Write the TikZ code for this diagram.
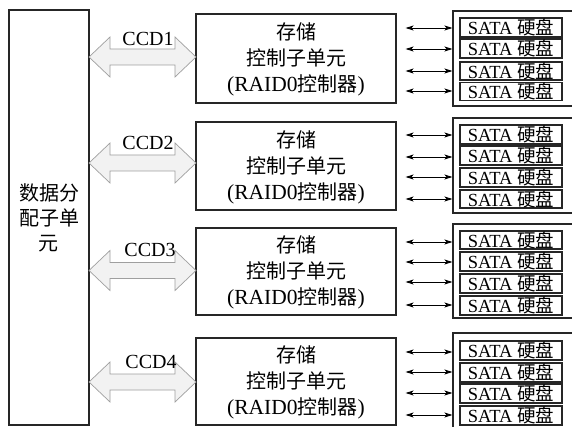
\documentclass[tikz,border=0pt]{standalone}
\usepackage{fontspec}
\setmainfont{Liberation Serif}
\newfontfamily\cjk{Noto Sans CJK SC}
\usetikzlibrary{arrows.meta}
% #1 = centre y of the double arrow
\newcommand\bigarrow[1]{%
  \draw[bigarr] (89,#1) -- (110,{#1-20}) -- (110,{#1-8}) -- (175,{#1-8}) -- (175,{#1-20})
     -- (196,#1) -- (175,{#1+20}) -- (175,{#1+8}) -- (110,{#1+8}) -- (110,{#1+20}) -- cycle;}
\begin{document}
\begin{tikzpicture}[x=1pt,y=-1pt,
  box/.style={draw=black!85, line width=1.1pt, rectangle, inner sep=0pt},
  disk/.style={draw=black!85, line width=1.1pt, rectangle, inner sep=0pt, minimum width=102pt, font=\fontsize{18.5}{18}\selectfont},
  bigarr/.style={fill=gray!10, draw=gray!75, line width=0.7pt, line join=miter},
  sarr/.style={arrows={Stealth[length=8pt,width=5pt,inset=2pt]-Stealth[length=8pt,width=5pt,inset=2pt]}, line width=0.9pt},
  lab/.style={font=\fontsize{20}{20}\selectfont, inner sep=0pt},
  stxt/.style={align=center, font=\fontsize{20}{26}\selectfont}]
\useasboundingbox (0,0) rectangle (572,427);
\fill[white] (0,0) rectangle (572,427);
% left box
\node[box, minimum width=80pt, minimum height=415pt] (dist) at (49,217.5) {};
\node[stxt, font=\fontsize{20}{25}\selectfont] (disttxt) at (49,218) {\cjk 数据分\\\cjk 配子单\\\cjk 元};
% storage boxes
\node[box, minimum width=200pt, minimum height=89pt] (s1) at (296,58.5) {};
\node[box, minimum width=200pt, minimum height=88pt] (s2) at (296,166) {};
\node[box, minimum width=200pt, minimum height=87pt] (s3) at (296,271.5) {};
\node[box, minimum width=200pt, minimum height=87pt] (s4) at (296,381.5) {};
\foreach \i in {1,...,4}{
  \node[stxt] (t\i) at ([yshift=-1]s\i.center) {{\cjk 存储}\\{\cjk 控制子单元}\\{\fontsize{21.5}{26}\selectfont(RAID0}{\cjk 控制器}{\fontsize{21.5}{26}\selectfont)}};
}
% disk groups
\node[box, minimum width=122pt, minimum height=95pt] (g1) at (514,58.5) {};
\node[box, minimum width=122pt, minimum height=95pt] (g2) at (514,165.5) {};
\node[box, minimum width=122pt, minimum height=94pt] (g3) at (514,271) {};
\node[box, minimum width=122pt, minimum height=96pt] (g4) at (514,381) {};
% disks
\foreach \n/\y/\h in {11/27.5/19, 12/48.5/19, 13/71/18, 14/91.5/17,
                      21/134.5/19, 22/155.5/19, 23/177.5/19, 24/199/18,
                      31/240/18, 32/261.5/19, 33/283.5/19, 34/305.5/19,
                      41/350.5/19, 42/372.5/19, 43/393.5/19, 44/415.5/19}{
  \node[disk, minimum height=\h pt] (d\n) at (511,\y) {SATA {\cjk 硬盘}};
}
% small arrows
\foreach \g/\a/\b/\c/\d in {1/28/49/71/91, 2/135/157/177/199, 3/242/262/282/305, 4/352/372/393/415}{
  \foreach \yy [count=\k] in {\a,\b,\c,\d}{
    \coordinate (aL\g\k) at ([xshift=9]s\g.east |- 0,\yy);
    \coordinate (aR\g\k) at (g\g.west |- 0,\yy);
    \draw[sarr] (aL\g\k) -- (aR\g\k);
  }
}
% big double arrows
\bigarrow{57}
\bigarrow{163}
\bigarrow{270.5}
\bigarrow{382}
\node[lab] (c1) at (148,39) {CCD1};
\node[lab] (c2) at (148,143) {CCD2};
\node[lab] (c3) at (150,250) {CCD3};
\node[lab] (c4) at (151,362) {CCD4};
\end{tikzpicture}
\end{document}
